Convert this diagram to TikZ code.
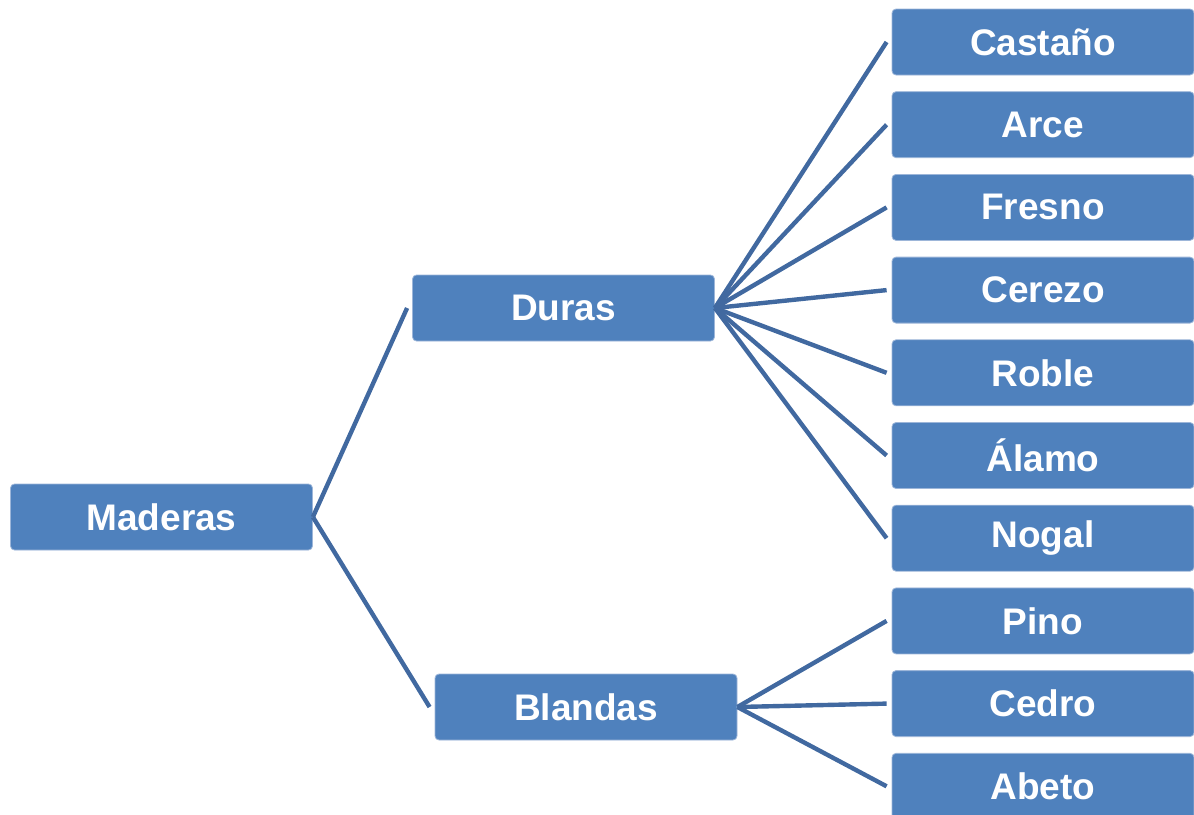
\documentclass[tikz,border=0pt]{standalone}
\usepackage{fontspec}
\setmainfont{Liberation Sans}
\definecolor{boxfill}{HTML}{4F81BD}
\definecolor{boxedge}{HTML}{9DB6D9}
\definecolor{linkcol}{HTML}{4169A0}
\begin{document}
\begin{tikzpicture}[x=1pt,y=-1pt,
  woodbox/.style={draw=boxedge,line width=0.8pt,fill=boxfill,rounded corners=4pt,
    minimum width=302pt,minimum height=66pt,inner sep=0pt,text=white,
    font=\fontsize{37}{43}\selectfont\bfseries},
  link/.style={draw=linkcol,line width=4.4pt}]
\useasboundingbox (0,0) rectangle (1194,814);
\clip (0,0) rectangle (1194,814);
% root and the two main groups
\node[woodbox] (mad) at (161.5,517) {Maderas};
\node[woodbox] (dur) at (563.5,308) {Duras};
\node[woodbox] (bla) at (586,707) {Blandas};
% leaves
\foreach \n/\t [count=\i from 0] in {cas/Castaño,arc/Arce,fre/Fresno,cer/Cerezo,rob/Roble,ala/Álamo,nog/Nogal,pin/Pino,ced/Cedro,abe/Abeto}
  \node[woodbox] (\n) at (1043,42+82.7*\i) {\t};
% connectors
\draw[link] (mad.east) -- ([xshift=-5pt]dur.west);
\draw[link] (mad.east) -- ([xshift=-5pt]bla.west);
\foreach \n in {cas,arc,fre,cer,rob,ala,nog}
  \draw[link] (dur.east) -- ([xshift=-5pt]\n.west);
\foreach \n in {pin,ced,abe}
  \draw[link] (bla.east) -- ([xshift=-5pt]\n.west);
\end{tikzpicture}
\end{document}
